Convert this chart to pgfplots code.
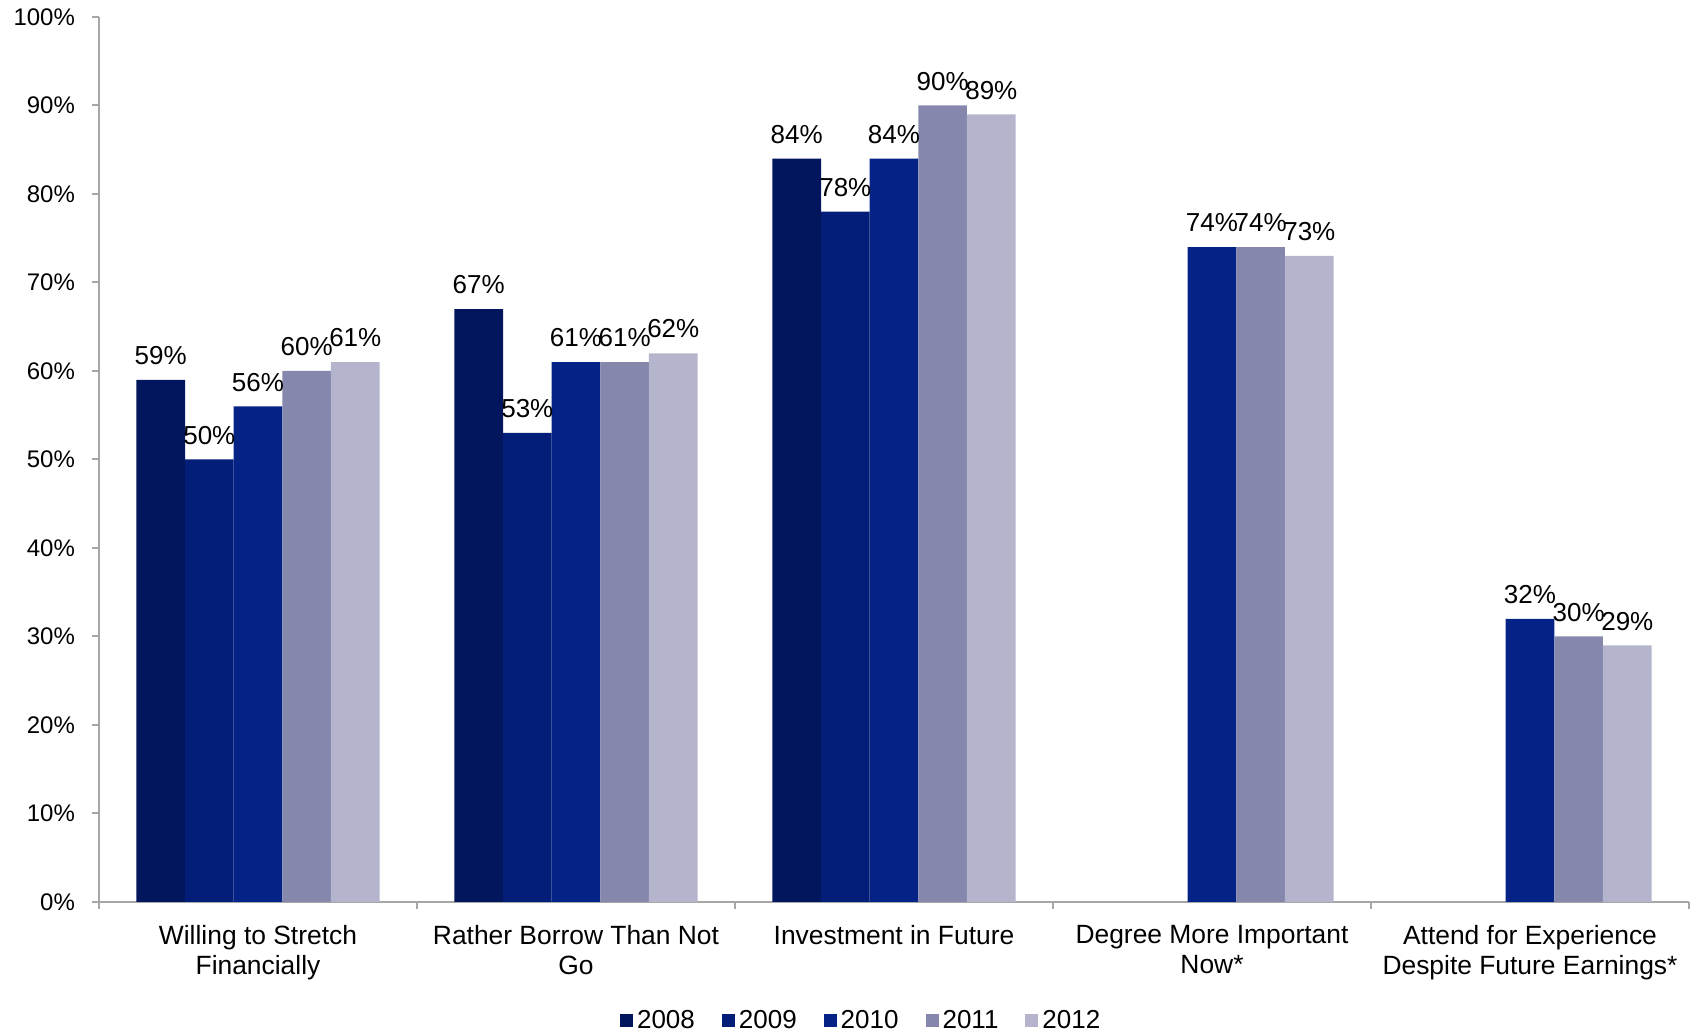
\documentclass[border=0pt]{standalone}
\usepackage{pgfplots}
\pgfplotsset{compat=1.18}
\usepackage{fontspec}
\setmainfont{Liberation Sans}
\definecolor{c08}{HTML}{02165E}
\definecolor{c09}{HTML}{031E78}
\definecolor{c10}{HTML}{052287}
\definecolor{c11}{HTML}{8587AD}
\definecolor{c12}{HTML}{B4B5CC}
\definecolor{axisgray}{HTML}{A6A6A6}
\begin{document}
\begin{tikzpicture}
\useasboundingbox (-49.5pt,-65pt) rectangle (799.5pt,451pt);
\begin{axis}[
  at={(0,0)}, anchor=south west,
  scale only axis, width=795pt, height=442.5pt,
  ybar=0pt, bar width=0.153,
  xmin=-0.5, xmax=4.5, ymin=0, ymax=100,
  axis x line*=bottom, axis y line*=left,
  axis line style={draw=axisgray, line width=1pt, -},
  tick align=outside, major tick length=3.5pt,
  tick style={draw=axisgray, line width=1pt},
  ytick={0,10,...,100},
  yticklabel={\pgfmathprintnumber[assume math mode=true]{\tick}\%},
  yticklabel style={font=\fontsize{12}{14}\selectfont, xshift=-5pt},
  xtick={-0.5,0.5,1.5,2.5,3.5,4.5},
  xticklabels={},
  extra x ticks={0,1,2,3,4},
  extra x tick labels={Willing to Stretch\\Financially, Rather Borrow Than Not\\Go, Investment in Future, Degree More Important\\Now*, Attend for Experience\\Despite Future Earnings*},
  extra x tick style={major tick length=0pt, tick style={draw=none}},
  xticklabel style={font=\fontsize{13.2}{15.2}\selectfont, align=center, yshift=-8pt},
  nodes near coords={\pgfmathprintnumber[assume math mode=true]{\pgfplotspointmeta}\%},
  nodes near coords style={font=\fontsize{13}{15}\selectfont, black, yshift=4pt},
  legend style={at={(0.480,-0.134)}, anchor=center, draw=none, legend columns=5,
    font=\fontsize{13}{15}\selectfont,
    /tikz/every even column/.append style={column sep=11.5pt}},
  legend image code/.code={\fill[#1] (0pt,-3.25pt) rectangle (6.5pt,3.25pt);},
]
\addplot[fill=c08, draw=none] coordinates {(0,59) (1,67) (2,84)};
\addplot[fill=c09, draw=none] coordinates {(0,50) (1,53) (2,78)};
\addplot[fill=c10, draw=none] coordinates {(0,56) (1,61) (2,84) (3,74) (4,32)};
\addplot[fill=c11, draw=none] coordinates {(0,60) (1,61) (2,90) (3,74) (4,30)};
\addplot[fill=c12, draw=none] coordinates {(0,61) (1,62) (2,89) (3,73) (4,29)};
\legend{2008,2009,2010,2011,2012}
\end{axis}
\end{tikzpicture}
\end{document}
